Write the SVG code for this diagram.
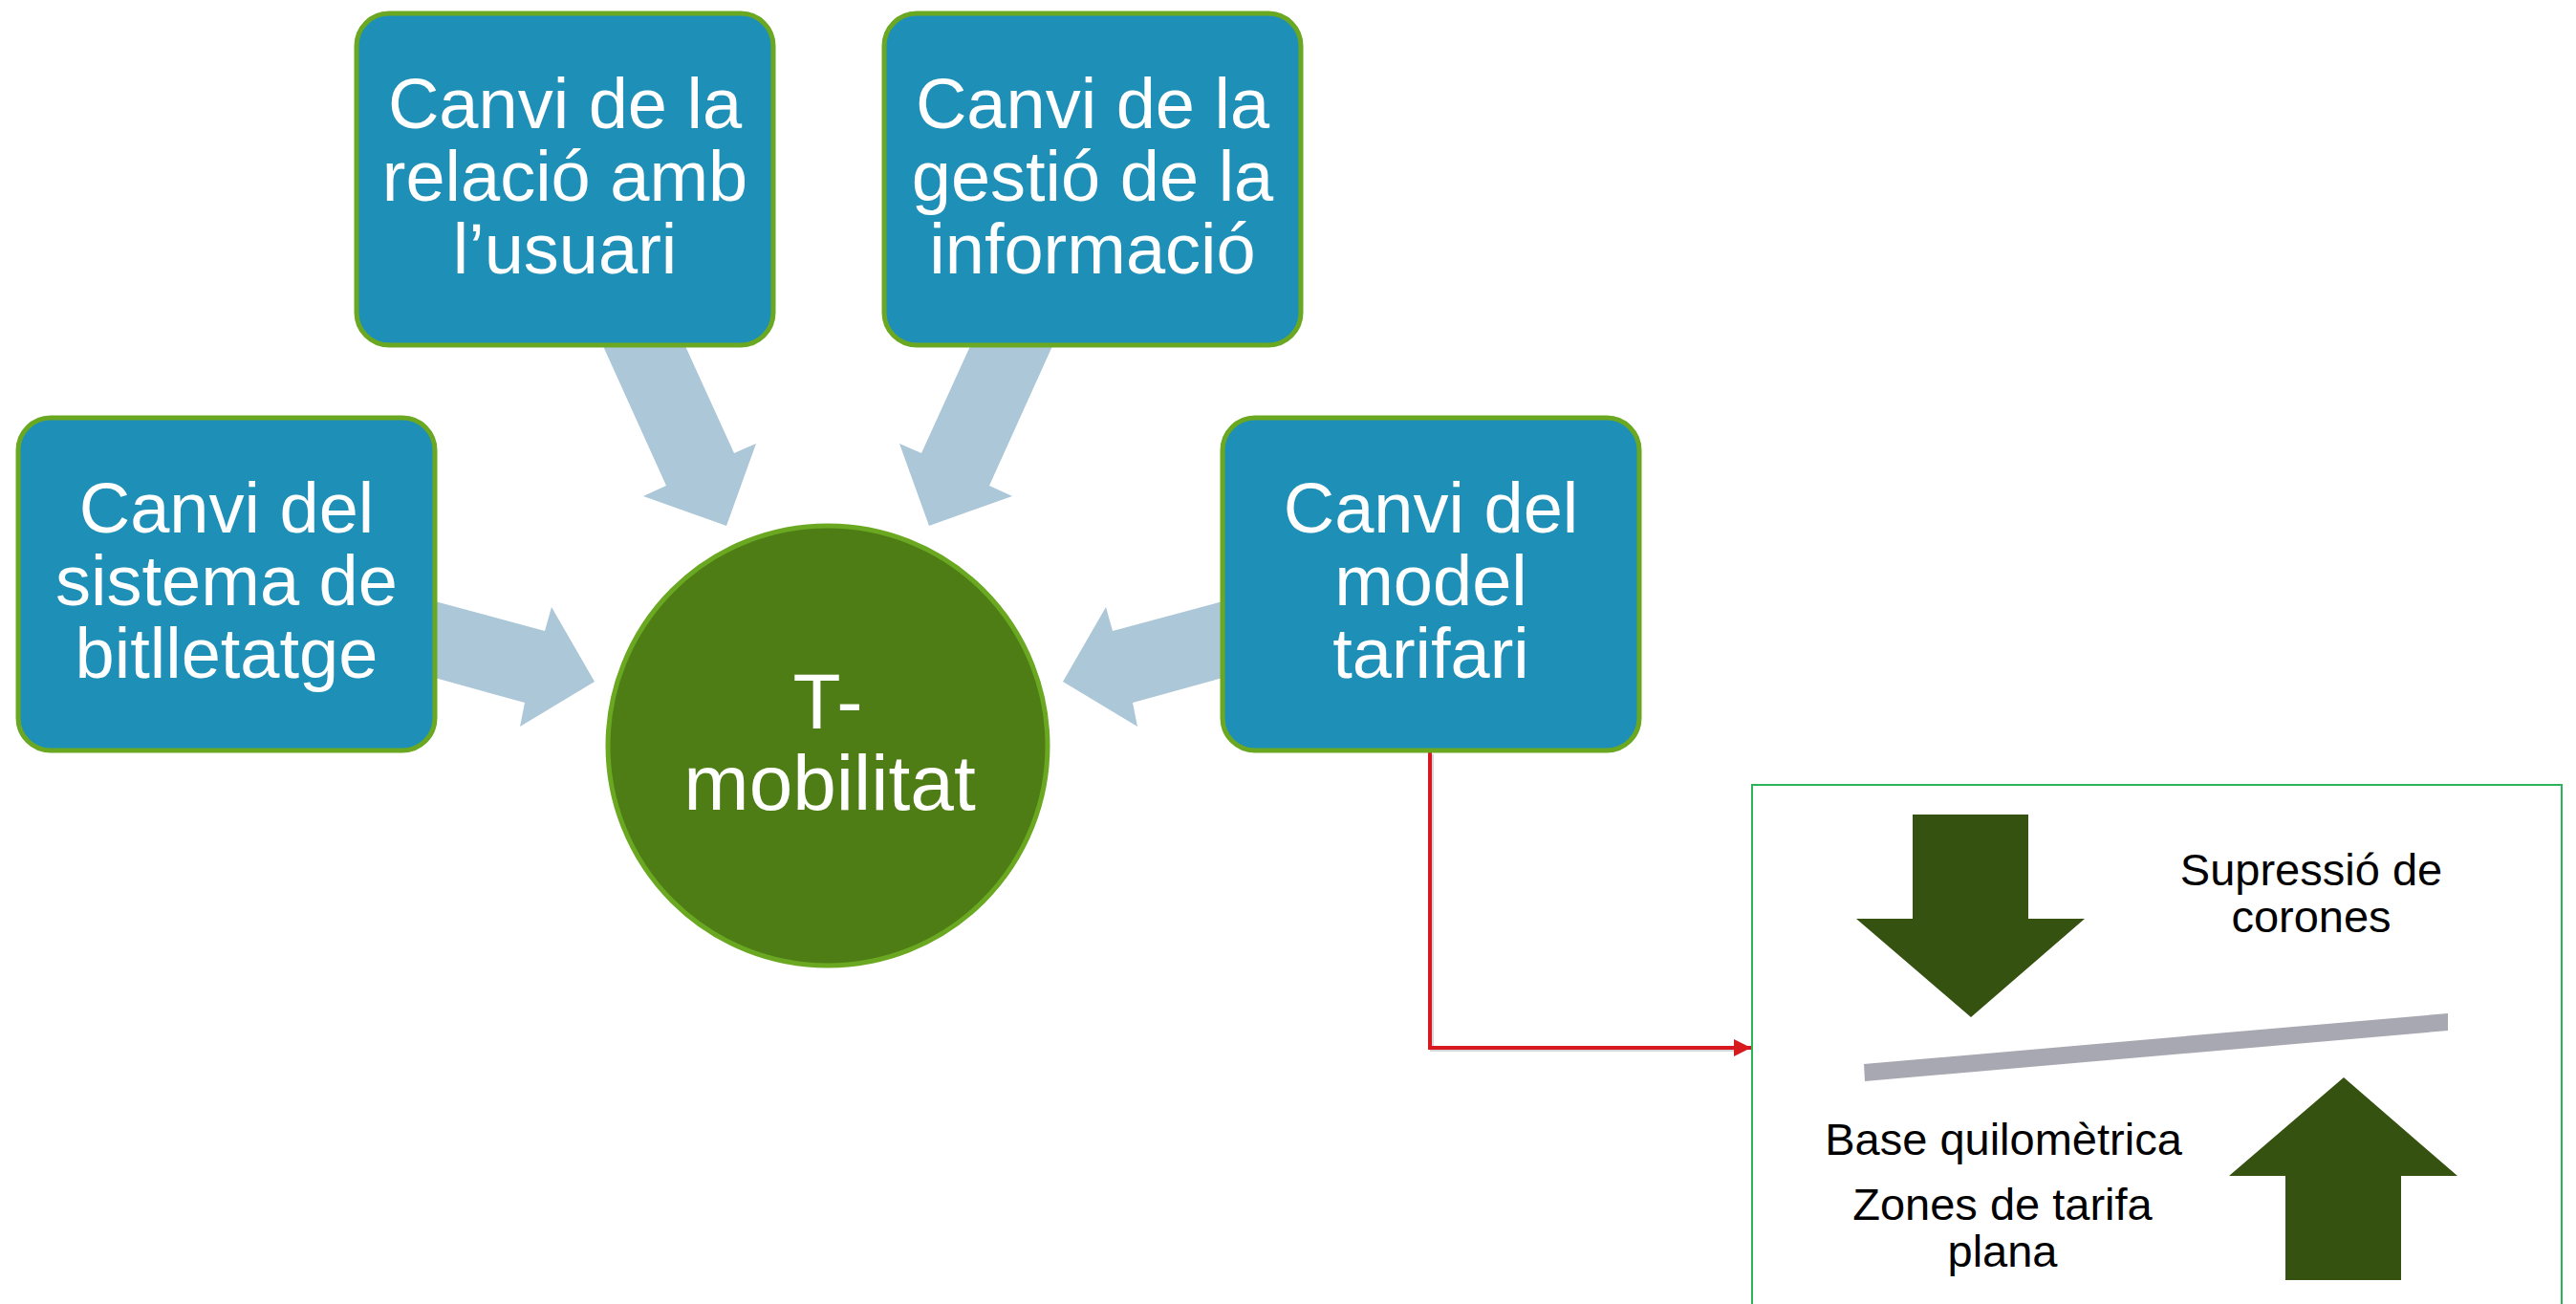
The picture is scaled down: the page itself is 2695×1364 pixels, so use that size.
<svg xmlns="http://www.w3.org/2000/svg" width="2695" height="1364" viewBox="0 0 2695 1364">
  <style>
    .box { fill: #1e8fb6; stroke: #6aa822; stroke-width: 5; }
    .circ { fill: #4e7d15; stroke: #6aa822; stroke-width: 5; }
    .flow { fill: #abc7d8; }
    .big { fill: #355210; }
    .lbl { font-family: "Liberation Sans", Arial, sans-serif; font-size: 74px; fill: #ffffff; text-anchor: middle; }
    .clbl { font-family: "Liberation Sans", Arial, sans-serif; font-size: 82px; fill: #ffffff; text-anchor: middle; }
    .ins { font-family: "Liberation Sans", Arial, sans-serif; font-size: 47px; fill: #000000; text-anchor: middle; }
  </style>
  <defs>
    <marker id="redhead" markerWidth="4.5" markerHeight="4.5" refX="4.5" refY="2.25" orient="auto" markerUnits="strokeWidth">
      <path d="M0,0 L4.5,2.25 L0,4.5 Z" fill="#d71920"/>
    </marker>
  </defs>
  <rect width="2695" height="1364" fill="#ffffff"/>

  <g id="connectors">
    <polygon class="flow" points="631,362 717,362 768,474 791,464 760,550 673,519 697,508"/>
    <polygon class="flow" points="1101,362 1015,362 964,474 941,464 972,550 1059,519 1035,508"/>
    <polygon class="flow" points="455,629 570,660 577,635 622,713 544,760 549,735 455,709"/>
    <polygon class="flow" points="1279,629 1164,660 1157,635 1112,713 1190,760 1185,735 1279,709"/>
    <path d="M1498,789 V1098 H1822" fill="none" stroke="#b0b0b0" stroke-opacity="0.5" stroke-width="4"/>
    <path d="M1496,787 V1096 H1832" fill="none" stroke="#d71920" stroke-width="4" marker-end="url(#redhead)"/>
  </g>

  <g id="node-usuari">
    <rect class="box" x="373" y="14" width="436" height="347" rx="34"/>
    <text class="lbl" x="591" y="134">Canvi de la</text>
    <text class="lbl" x="591" y="210">relació amb</text>
    <text class="lbl" x="591" y="286">l’usuari</text>
  </g>

  <g id="node-informacio">
    <rect class="box" x="925" y="14" width="436" height="347" rx="34"/>
    <text class="lbl" x="1143" y="134">Canvi de la</text>
    <text class="lbl" x="1143" y="210">gestió de la</text>
    <text class="lbl" x="1143" y="286">informació</text>
  </g>

  <g id="node-bitlletatge">
    <rect class="box" x="19" y="437" width="436" height="348" rx="34"/>
    <text class="lbl" x="237" y="557">Canvi del</text>
    <text class="lbl" x="237" y="633">sistema de</text>
    <text class="lbl" x="237" y="709">bitlletatge</text>
  </g>

  <g id="node-tarifari">
    <rect class="box" x="1279" y="437" width="436" height="348" rx="34"/>
    <text class="lbl" x="1497" y="557">Canvi del</text>
    <text class="lbl" x="1497" y="633">model</text>
    <text class="lbl" x="1497" y="709">tarifari</text>
  </g>

  <g id="node-tmobilitat">
    <circle class="circ" cx="866" cy="780" r="230"/>
    <text class="clbl" x="866" y="762">T-</text>
    <text class="clbl" x="868" y="847">mobilitat</text>
  </g>

  <g id="node-inset">
    <rect x="1833" y="821" width="847" height="560" fill="#ffffff" stroke="#2db35a" stroke-width="2"/>
    <polygon class="big" points="2001,852 2122,852 2122,961 2181,961 2062,1064 1942,961 2001,961"/>
    <polygon class="big" points="2452,1127 2571,1230 2512,1230 2512,1339 2391,1339 2391,1230 2332,1230"/>
    <polygon fill="#a8a8b2" points="1950,1113 2561,1060 2561,1078 1951,1131"/>
    <text class="ins" x="2418" y="926">Supressió de</text>
    <text class="ins" x="2418" y="975">corones</text>
    <text class="ins" x="2096" y="1208">Base quilomètrica</text>
    <text class="ins" x="2095" y="1276">Zones de tarifa</text>
    <text class="ins" x="2095" y="1325">plana</text>
  </g>
</svg>
